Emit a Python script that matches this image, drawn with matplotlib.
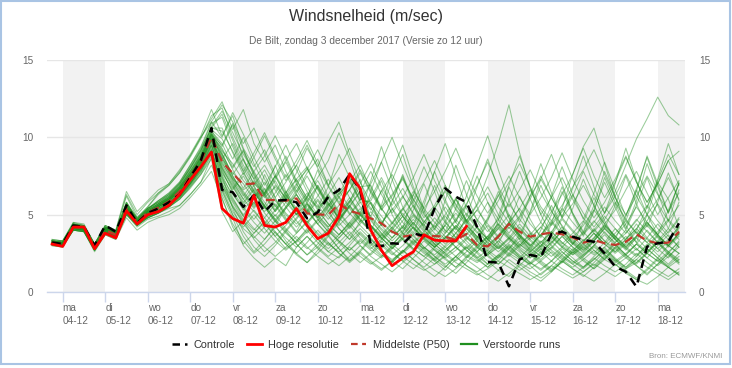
"""Windsnelheid pluim De Bilt (ECMWF ensemble), naar KNMI-grafiek."""
import matplotlib
matplotlib.use("Agg")
import matplotlib.pyplot as plt
from matplotlib.lines import Line2D
from matplotlib.patches import Rectangle

plt.rcParams["font.family"] = ["Liberation Sans", "DejaVu Sans"]

# tijdstappen: elke 6 uur vanaf zo 3 dec 18 uur, in uren t.o.v. ma 4 dec 00 uur
uren = list(range(-6, 349, 6))

dag_namen = ["ma", "di", "wo", "do", "vr", "za", "zo",
             "ma", "di", "wo", "do", "vr", "za", "zo", "ma"]
datums = ["04-12", "05-12", "06-12", "07-12", "08-12", "09-12", "10-12",
          "11-12", "12-12", "13-12", "14-12", "15-12", "16-12", "17-12", "18-12"]

controle = [
    3.2, 3.1, 4.3, 4.2, 3.0, 4.3, 3.9, 5.6, 4.45, 5.1,
    5.4, 5.8, 6.3, 7.4, 8.5, 10.6, 6.6, 6.45, 5.5, 6.27,
    5.19, 5.9, 5.95, 5.8, 4.76, 5.15, 6.16, 6.59, 7.6, 6.6,
    3.04, 2.97, 3.15, 3.1, 3.79, 3.62, 5.4, 6.7, 6.16, 5.8,
    4.2, 1.95, 1.9, 0.37, 2.1, 2.4, 2.25, 3.75, 3.9, 3.58,
    3.36, 3.25, 2.5, 1.64, 1.31, 0.34, 2.93, 3.15, 3.25, 4.44,
]

hoge_resolutie = [
    3.1, 2.95, 4.2, 4.2, 2.8, 3.8, 3.5, 5.25, 4.4, 5.0,
    5.2, 5.6, 6.3, 7.25, 8.1, 9.05, 5.4, 4.75, 4.45, 6.25,
    4.3, 4.2, 4.5, 5.4, 4.3, 3.45, 3.8, 4.9, 7.65, 6.7,
    4.0, 2.7, 1.7, 2.2, 2.6, 3.7, 3.35, 3.3, 3.3, 4.25,
]

middelste = [
    3.2, 3.1, 4.2, 4.15, 2.9, 4.0, 3.7, 5.4, 4.5, 5.15,
    5.45, 5.85, 6.5, 7.45, 8.45, 10.0, 8.42, 7.67, 6.95, 7.02,
    5.95, 5.95, 5.9, 6.05, 5.08, 5.02, 4.98, 5.71, 5.25, 5.05,
    4.76, 4.44, 3.9, 3.58, 3.68, 3.62, 3.62, 3.58, 3.36, 3.75,
    3.04, 2.95, 3.58, 4.4, 3.9, 3.58, 3.73, 3.84, 3.73, 3.53,
    3.19, 3.36, 3.15, 3.04, 3.25, 3.73, 3.32, 3.15, 3.19, 3.9,
]

# 50 verstoorde runs, elk 60 waarden
verstoorde_runs = [
    [3.3, 3.2, 4.4, 4.3, 3.0, 4.1, 3.8, 5.6, 4.7, 5.4, 5.8, 6.3, 7.0, 8.0, 9.1, 10.6, 11.5, 9.8, 8.2, 7.0,
     6.4, 7.5, 8.8, 7.2, 6.1, 5.5, 6.8, 8.9, 7.4, 5.8, 5.9, 7.2, 5.4, 4.1, 6.3, 8.1, 6.5, 4.6, 3.5, 4.9,
     6.8, 8.6, 6.7, 4.8, 3.4, 5.2, 7.3, 8.9, 7.0, 5.1, 3.9, 5.6, 7.8, 6.2, 4.3, 3.2, 5.0, 7.1, 6.0, 4.2],
    [3.1, 3.0, 4.1, 4.0, 2.7, 3.8, 3.5, 5.1, 4.3, 4.9, 5.2, 5.6, 6.1, 7.0, 8.0, 9.2, 6.1, 4.2, 3.1, 3.8,
     4.5, 3.6, 2.8, 3.3, 4.1, 3.5, 2.6, 2.2, 3.0, 3.8, 3.1, 2.4, 1.9, 2.6, 3.3, 2.8, 2.1, 1.6, 2.3, 3.0,
     2.5, 1.8, 2.4, 3.1, 2.6, 1.9, 1.4, 2.0, 2.8, 2.2, 1.6, 2.3, 2.9, 2.1, 1.5, 1.9, 2.6, 3.2, 2.4, 1.8],
    [3.2, 3.2, 4.3, 4.2, 3.0, 4.1, 3.9, 6.2, 4.8, 5.5, 6.3, 6.9, 7.7, 8.8, 10.0, 11.2, 12.3, 10.5, 11.8, 9.6,
     8.4, 9.5, 7.8, 6.5, 7.7, 8.6, 6.9, 5.8, 6.6, 7.9, 6.8, 5.5, 6.3, 7.4, 6.0, 4.8, 5.6, 6.9, 5.4, 4.5,
     5.3, 6.4, 5.0, 4.1, 4.9, 6.2, 7.3, 6.1, 4.8, 5.7, 6.9, 5.6, 4.4, 5.3, 6.6, 7.8, 6.4, 5.0, 6.1, 7.2],
    [3.3, 3.1, 4.2, 4.2, 2.8, 3.9, 3.6, 5.2, 4.4, 5.0, 5.4, 5.8, 6.4, 7.3, 8.3, 9.6, 8.0, 6.9, 5.6, 6.2,
     5.1, 4.3, 5.4, 6.3, 5.2, 4.4, 3.7, 4.6, 5.5, 4.7, 3.9, 3.2, 4.1, 3.4, 2.7, 3.5, 4.3, 3.6, 2.9, 2.2,
     2.8, 3.6, 2.9, 2.3, 3.0, 3.8, 3.1, 2.5, 1.9, 2.6, 3.4, 2.7, 2.1, 2.9, 3.6, 2.8, 2.2, 3.0, 3.7, 2.9],
    [3.2, 3.0, 4.3, 4.0, 2.9, 4.2, 3.7, 5.5, 4.4, 5.2, 5.6, 6.0, 6.7, 7.6, 8.7, 10.2, 9.1, 8.3, 7.2, 6.4,
     5.6, 6.9, 6.1, 5.3, 6.2, 7.4, 8.5, 10.3, 8.6, 6.5, 4.7, 3.8, 3.1, 3.7, 4.5, 3.6, 2.9, 3.5, 4.2, 3.3,
     2.6, 3.4, 4.3, 3.5, 2.8, 2.2, 3.0, 3.9, 3.2, 2.5, 3.2, 4.1, 3.3, 2.6, 3.4, 4.4, 3.5, 2.8, 2.2, 3.1],
    [3.1, 3.1, 4.0, 3.9, 2.8, 3.9, 3.6, 5.0, 4.5, 4.8, 5.1, 5.5, 6.0, 6.8, 7.6, 8.6, 5.2, 3.9, 4.6, 3.4,
     2.6, 3.2, 4.0, 3.1, 2.4, 2.9, 3.7, 2.8, 2.1, 2.7, 3.5, 2.7, 2.0, 1.5, 2.2, 2.9, 2.3, 1.7, 1.2, 1.9,
     2.6, 2.0, 1.4, 1.0, 1.7, 2.4, 1.8, 1.3, 2.0, 2.7, 2.1, 1.5, 2.2, 2.9, 2.3, 1.7, 1.1, 1.8, 2.5, 1.9],
    [3.4, 3.3, 4.5, 4.4, 3.1, 4.3, 4.0, 6.5, 5.2, 5.9, 6.6, 7.0, 7.9, 8.9, 10.1, 11.8, 10.1, 11.4, 9.3, 8.1,
     9.2, 7.6, 6.4, 7.3, 8.1, 6.7, 5.6, 6.4, 7.5, 6.2, 5.3, 6.5, 7.6, 6.2, 5.0, 4.3, 5.4, 6.6, 5.7, 4.6,
     3.8, 4.7, 5.9, 7.1, 8.3, 6.8, 5.5, 4.6, 5.6, 6.8, 7.9, 9.2, 7.6, 6.1, 5.0, 6.2, 7.5, 6.3, 5.2, 6.4],
    [3.2, 3.1, 4.2, 4.1, 2.9, 4.0, 3.8, 5.3, 4.6, 5.1, 5.5, 5.9, 6.5, 7.3, 8.3, 9.8, 7.7, 6.6, 7.5, 6.3,
     6.4, 8.2, 6.5, 5.0, 6.1, 7.9, 6.1, 4.6, 5.8, 7.3, 4.6, 3.8, 3.0, 3.9, 4.7, 3.9, 3.1, 2.5, 3.3, 4.1,
     3.3, 2.6, 2.0, 2.8, 3.7, 2.9, 2.3, 3.1, 4.0, 3.2, 2.5, 3.3, 4.2, 3.4, 2.7, 3.5, 2.8, 2.2, 3.0, 3.8],
    [3.3, 3.2, 4.3, 4.3, 3.1, 4.2, 3.9, 5.7, 4.7, 5.3, 5.9, 6.4, 7.1, 8.2, 9.4, 11.0, 12.1, 11.0, 9.6, 10.6,
     8.9, 7.4, 8.5, 9.6, 8.0, 6.6, 5.5, 6.3, 7.2, 6.0, 5.7, 4.3, 5.8, 7.5, 5.6, 4.1, 3.1, 4.4, 6.0, 4.5,
     3.3, 4.6, 6.3, 4.8, 3.6, 2.7, 4.0, 5.6, 4.2, 3.1, 4.5, 6.1, 4.6, 3.4, 4.9, 6.6, 5.0, 3.7, 5.3, 7.0],
    [3.0, 2.9, 4.0, 3.9, 2.6, 3.7, 3.4, 5.0, 4.2, 4.7, 4.9, 5.2, 5.6, 6.3, 7.1, 8.2, 6.6, 5.0, 3.6, 2.6,
     3.4, 4.3, 3.3, 2.5, 1.9, 2.7, 3.6, 2.8, 2.0, 2.6, 3.4, 2.6, 1.9, 2.6, 3.4, 2.7, 2.0, 1.4, 2.1, 2.9,
     2.2, 1.6, 2.3, 3.0, 2.3, 1.7, 1.1, 1.7, 2.4, 1.8, 1.3, 1.9, 2.6, 2.0, 1.4, 0.9, 1.5, 2.2, 1.6, 1.1],
    [3.2, 3.1, 4.2, 4.0, 2.9, 4.1, 3.7, 5.4, 4.5, 5.1, 5.6, 6.0, 6.6, 7.5, 8.6, 10.1, 8.8, 7.3, 6.2, 7.2,
     6.3, 5.2, 6.1, 7.0, 5.8, 4.8, 5.6, 6.6, 5.4, 4.5, 6.5, 8.4, 6.6, 4.9, 3.8, 5.6, 7.8, 9.6, 7.5, 5.4,
     4.2, 3.1, 4.6, 6.8, 5.2, 3.8, 2.9, 4.4, 6.5, 5.0, 3.6, 5.2, 7.4, 5.8, 4.1, 5.9, 8.3, 6.4, 4.6, 6.6],
    [3.1, 3.0, 4.1, 4.1, 2.8, 3.9, 3.6, 5.3, 4.4, 5.0, 5.4, 5.7, 6.3, 7.2, 8.2, 9.5, 7.3, 6.0, 5.0, 5.8,
     6.7, 5.6, 4.6, 5.5, 6.4, 5.3, 4.4, 3.7, 4.5, 5.4, 4.3, 3.5, 2.8, 3.6, 4.5, 3.7, 3.0, 3.8, 4.7, 3.9,
     3.1, 2.5, 3.3, 4.2, 3.4, 2.7, 2.1, 2.8, 3.6, 2.9, 2.3, 3.0, 3.9, 3.1, 2.4, 3.1, 4.0, 3.2, 2.5, 3.3],
    [3.3, 3.3, 4.4, 4.2, 3.1, 4.2, 3.8, 5.8, 4.6, 5.4, 5.8, 6.2, 6.9, 8.0, 9.2, 10.7, 11.7, 10.3, 8.9, 7.8,
     8.8, 10.1, 8.6, 7.1, 7.9, 9.2, 7.7, 6.3, 7.1, 8.2, 6.6, 5.4, 4.4, 5.3, 6.3, 5.1, 4.1, 3.4, 4.2, 5.1,
     4.2, 3.4, 2.8, 3.5, 4.4, 3.6, 2.9, 3.7, 4.7, 3.9, 3.1, 2.5, 3.2, 4.1, 3.3, 2.7, 3.5, 4.4, 3.6, 2.9],
    [3.2, 3.1, 4.1, 4.0, 2.9, 3.9, 3.7, 5.2, 4.6, 5.0, 5.3, 5.8, 6.3, 7.1, 8.1, 9.3, 6.8, 5.5, 4.5, 5.3,
     4.4, 3.6, 4.3, 5.1, 4.2, 3.4, 2.8, 3.5, 4.3, 3.5, 2.9, 2.3, 3.0, 3.8, 3.1, 2.5, 2.0, 2.6, 3.4, 2.7,
     2.1, 1.6, 2.2, 2.9, 2.3, 1.8, 2.5, 3.3, 2.6, 2.0, 1.5, 2.1, 2.8, 2.2, 1.6, 2.3, 3.1, 2.4, 1.8, 2.5],
    [3.2, 3.2, 4.3, 4.1, 3.0, 4.0, 3.8, 5.5, 4.5, 5.3, 5.7, 6.1, 6.8, 7.8, 8.9, 10.4, 9.4, 10.8, 8.6, 6.9,
     5.5, 4.5, 5.5, 6.6, 5.4, 4.4, 3.6, 4.5, 5.6, 4.6, 3.9, 5.6, 7.8, 9.5, 7.4, 5.3, 4.0, 5.9, 8.2, 6.3,
     4.6, 3.4, 4.9, 6.9, 8.8, 6.8, 5.0, 3.7, 5.4, 7.6, 9.4, 10.6, 8.3, 6.1, 4.6, 6.5, 8.8, 7.0, 5.1, 7.1],
    [3.1, 3.0, 4.2, 4.0, 2.7, 3.8, 3.6, 5.1, 4.4, 4.9, 5.3, 5.6, 6.2, 7.0, 7.9, 9.0, 7.0, 5.8, 4.7, 4.0,
     4.8, 3.9, 3.1, 2.5, 3.2, 4.0, 3.2, 2.5, 1.9, 2.5, 1.9, 1.4, 2.0, 2.7, 2.1, 1.5, 1.0, 1.6, 2.3, 1.7,
     1.2, 0.8, 1.4, 2.1, 1.6, 1.1, 0.7, 1.3, 2.0, 1.5, 1.0, 1.6, 2.3, 1.8, 1.2, 0.8, 1.4, 2.1, 1.6, 1.1],
    [3.3, 3.2, 4.3, 4.2, 3.0, 4.1, 3.8, 5.6, 4.6, 5.3, 5.7, 6.2, 6.9, 7.9, 9.0, 10.5, 9.9, 8.6, 10.0, 8.3,
     6.9, 8.1, 9.5, 7.9, 6.5, 5.4, 6.3, 7.4, 6.1, 5.0, 6.1, 7.4, 6.0, 4.9, 5.9, 7.1, 8.5, 6.9, 5.6, 4.6,
     5.6, 6.8, 5.5, 4.5, 5.4, 6.6, 5.3, 4.3, 5.2, 6.3, 5.1, 4.2, 5.1, 6.2, 7.6, 6.2, 5.0, 6.0, 7.4, 6.0],
    [3.2, 3.1, 4.2, 4.1, 2.9, 4.0, 3.7, 5.4, 4.5, 5.1, 5.5, 5.9, 6.5, 7.4, 8.4, 9.9, 8.2, 7.0, 5.8, 6.7,
     5.6, 4.7, 5.5, 4.6, 3.8, 4.6, 5.5, 4.5, 3.7, 4.4, 5.2, 4.3, 3.5, 4.2, 3.4, 2.8, 3.5, 4.3, 3.5, 2.8,
     3.5, 4.3, 3.5, 2.8, 2.2, 2.9, 3.7, 3.0, 2.4, 3.1, 3.9, 3.1, 2.5, 3.2, 4.0, 3.2, 2.6, 3.3, 4.1, 3.4],
    [3.3, 3.2, 4.4, 4.2, 3.0, 4.2, 3.8, 5.7, 4.8, 5.4, 5.9, 6.3, 7.0, 8.1, 9.2, 10.6, 10.6, 9.0, 7.6, 8.7,
     7.3, 6.1, 7.1, 8.2, 6.8, 5.6, 4.7, 5.6, 6.6, 5.5, 4.9, 6.6, 5.0, 3.8, 5.3, 7.0, 5.3, 3.9, 5.4, 7.2,
     5.5, 4.1, 3.1, 4.5, 6.2, 4.7, 3.5, 5.0, 6.8, 5.1, 3.8, 5.3, 7.1, 5.5, 4.0, 5.6, 7.4, 5.6, 4.1, 5.8],
    [3.1, 3.0, 4.1, 4.0, 2.8, 3.9, 3.6, 5.2, 4.4, 4.9, 5.2, 5.6, 6.2, 7.0, 8.0, 9.4, 7.5, 5.4, 3.9, 2.9,
     2.3, 3.0, 3.9, 3.1, 2.4, 3.1, 4.0, 3.2, 2.5, 1.9, 2.5, 3.3, 2.6, 2.0, 1.5, 2.1, 2.8, 2.2, 1.6, 2.3,
     3.0, 2.4, 1.8, 2.5, 3.3, 2.6, 2.0, 1.5, 2.1, 2.8, 2.2, 1.7, 2.4, 3.1, 2.4, 1.8, 2.5, 3.3, 2.6, 2.0],
    [3.2, 3.2, 4.2, 4.2, 2.9, 4.1, 3.8, 5.5, 4.6, 5.2, 5.6, 6.0, 6.7, 7.6, 8.6, 10.1, 9.3, 7.9, 6.7, 7.8,
     6.6, 5.5, 6.5, 5.4, 4.5, 5.3, 6.3, 5.2, 4.3, 5.1, 4.3, 3.6, 4.4, 5.4, 4.4, 3.6, 4.4, 5.5, 4.5, 3.7,
     4.6, 5.8, 4.7, 3.8, 4.8, 6.0, 7.5, 6.1, 4.9, 6.2, 7.8, 6.3, 5.1, 6.5, 8.2, 9.9, 11.2, 12.6, 11.4, 10.8],
    [3.1, 3.1, 4.1, 4.0, 2.9, 4.0, 3.6, 5.3, 4.4, 5.0, 5.4, 5.8, 6.4, 7.2, 8.2, 9.7, 8.5, 7.4, 6.5, 5.6,
     7.6, 6.1, 4.8, 3.9, 5.2, 6.9, 5.3, 4.1, 3.4, 4.6, 4.8, 4.0, 3.3, 4.0, 4.9, 4.0, 3.3, 2.7, 3.4, 4.2,
     3.5, 2.9, 3.6, 4.5, 3.7, 3.0, 2.5, 3.2, 4.0, 3.3, 2.7, 3.4, 4.3, 3.5, 2.9, 3.6, 4.5, 3.7, 3.0, 3.8],
    [3.2, 3.1, 4.3, 4.2, 3.0, 4.1, 3.7, 5.5, 4.6, 5.2, 5.6, 6.1, 6.7, 7.7, 8.7, 10.2, 8.9, 7.6, 8.6, 7.3,
     6.2, 7.2, 6.0, 5.0, 5.8, 6.8, 5.7, 4.7, 5.5, 6.5, 7.8, 6.3, 5.1, 6.1, 7.4, 8.9, 7.2, 5.8, 4.7, 5.7,
     6.9, 8.4, 6.8, 5.5, 6.6, 7.9, 6.4, 5.2, 6.3, 7.6, 9.3, 7.5, 6.1, 7.3, 8.8, 7.1, 5.8, 7.0, 8.5, 9.1],
    [3.1, 3.0, 4.0, 3.9, 2.7, 3.8, 3.5, 5.1, 4.3, 4.8, 5.1, 5.5, 6.0, 6.8, 7.7, 8.9, 7.2, 5.9, 4.9, 4.1,
     3.4, 4.2, 3.5, 2.9, 3.6, 2.9, 2.3, 2.9, 3.7, 3.0, 2.4, 3.1, 2.5, 2.0, 2.6, 3.3, 2.7, 2.1, 1.6, 2.2,
     2.9, 2.3, 1.8, 2.4, 3.1, 2.5, 1.9, 1.4, 1.9, 2.6, 2.0, 1.5, 2.1, 2.8, 2.2, 1.7, 1.2, 1.8, 2.5, 1.9],
    [3.2, 3.1, 4.2, 4.1, 2.9, 4.0, 3.7, 5.4, 4.5, 5.1, 5.5, 5.9, 6.6, 7.5, 8.5, 10.0, 8.3, 7.3, 6.6, 7.1,
     6.1, 6.8, 5.8, 5.0, 5.7, 4.9, 4.2, 5.0, 5.9, 5.0, 4.3, 3.7, 4.5, 3.8, 3.2, 3.9, 4.8, 4.0, 3.4, 4.1,
     3.4, 2.8, 3.5, 4.4, 3.6, 3.0, 3.7, 4.6, 3.8, 3.1, 2.6, 3.3, 4.1, 3.4, 2.8, 3.5, 4.3, 3.5, 2.9, 3.6],
    [3.3, 3.3, 4.4, 4.3, 3.1, 4.3, 3.9, 5.8, 4.8, 5.5, 6.4, 7.0, 7.8, 8.8, 10.0, 11.0, 10.0, 11.6, 10.2, 8.7,
     10.1, 8.6, 7.2, 8.2, 9.5, 8.0, 6.8, 5.7, 6.6, 7.7, 6.4, 5.3, 6.2, 7.3, 6.0, 5.0, 4.2, 5.0, 6.0, 5.0,
     4.1, 3.4, 4.1, 5.0, 4.1, 3.4, 4.2, 5.2, 4.3, 3.5, 4.3, 5.3, 4.4, 3.6, 4.4, 5.5, 4.5, 3.7, 4.6, 5.6],
    [3.1, 3.0, 4.1, 3.9, 2.8, 3.8, 3.5, 5.0, 4.3, 4.8, 5.1, 5.5, 6.0, 6.7, 7.6, 8.8, 6.3, 4.8, 3.0, 2.2,
     1.6, 2.2, 1.7, 2.9, 3.6, 2.8, 2.2, 1.7, 2.3, 3.0, 2.3, 1.8, 1.3, 1.9, 2.5, 1.9, 1.4, 1.0, 1.5, 2.1,
     1.6, 1.1, 0.7, 1.2, 1.8, 1.3, 0.9, 1.4, 2.0, 1.5, 1.1, 0.7, 1.2, 1.8, 1.3, 0.8, 0.5, 1.0, 1.6, 1.2],
    [3.2, 3.2, 4.3, 4.2, 3.0, 4.1, 3.8, 5.6, 4.7, 5.3, 5.7, 6.2, 6.8, 7.8, 8.9, 10.4, 9.6, 8.1, 9.2, 7.6,
     6.3, 7.3, 8.4, 7.0, 5.9, 6.9, 5.8, 4.9, 5.8, 6.8, 6.9, 5.3, 7.2, 8.9, 6.8, 5.1, 6.9, 5.2, 4.0, 5.6,
     7.5, 5.8, 4.3, 5.9, 7.8, 6.0, 4.5, 6.2, 8.1, 6.3, 4.7, 6.4, 8.4, 6.6, 4.9, 6.7, 8.7, 6.8, 5.1, 7.0],
    [3.1, 3.1, 4.2, 4.1, 2.8, 3.9, 3.6, 5.3, 4.4, 5.0, 5.4, 5.8, 6.4, 7.3, 8.3, 9.8, 7.9, 6.4, 5.3, 6.1,
     7.1, 5.9, 5.0, 4.2, 5.0, 5.9, 4.9, 4.1, 3.4, 4.1, 3.4, 2.8, 3.5, 4.3, 3.6, 2.9, 2.4, 3.0, 3.8, 3.1,
     2.6, 3.3, 4.1, 3.4, 2.7, 2.2, 2.8, 3.6, 2.9, 2.4, 3.0, 3.8, 3.1, 2.5, 3.1, 3.9, 3.2, 2.6, 3.3, 4.1],
    [3.3, 3.2, 4.3, 4.1, 3.0, 4.1, 3.8, 5.5, 4.6, 5.2, 5.7, 6.1, 6.8, 7.7, 8.8, 10.3, 9.0, 7.5, 6.3, 5.4,
     6.3, 7.5, 6.2, 5.2, 6.1, 7.2, 6.0, 5.0, 5.9, 7.0, 8.3, 6.8, 5.6, 6.7, 5.5, 4.5, 5.4, 6.5, 5.3, 4.4,
     5.3, 4.4, 3.6, 4.4, 5.4, 4.4, 3.6, 4.4, 5.4, 4.5, 3.7, 4.5, 5.5, 4.6, 3.8, 4.6, 5.6, 4.6, 3.8, 4.7],
    [3.2, 3.0, 4.1, 4.0, 2.8, 3.9, 3.6, 5.2, 4.4, 4.9, 5.2, 5.6, 6.2, 7.0, 7.9, 9.1, 6.7, 5.2, 4.2, 5.0,
     4.1, 3.3, 2.7, 3.3, 4.0, 3.2, 2.6, 3.2, 3.9, 3.1, 3.8, 3.0, 2.4, 3.0, 3.7, 2.9, 2.3, 1.8, 2.3, 2.9,
     2.3, 1.8, 2.3, 3.0, 2.4, 1.9, 1.5, 2.0, 2.6, 2.0, 1.6, 2.1, 2.7, 2.1, 1.6, 2.1, 2.8, 2.2, 1.7, 2.3],
    [3.2, 3.1, 4.2, 4.1, 2.9, 4.1, 3.7, 5.4, 4.5, 5.2, 5.6, 6.0, 6.6, 7.6, 8.6, 10.1, 8.7, 7.2, 6.0, 5.2,
     4.4, 5.3, 6.4, 7.7, 9.3, 8.1, 9.7, 11.0, 8.9, 7.1, 5.7, 4.6, 3.8, 4.6, 5.6, 4.6, 3.8, 3.1, 3.8, 4.7,
     3.9, 3.2, 2.6, 3.2, 4.0, 3.3, 2.7, 3.4, 4.2, 3.4, 2.8, 3.5, 4.4, 3.6, 2.9, 3.6, 4.5, 3.7, 3.0, 3.8],
    [3.2, 3.2, 4.2, 4.1, 3.0, 4.0, 3.8, 5.4, 4.6, 5.1, 5.5, 6.0, 6.5, 7.4, 8.5, 9.9, 8.1, 6.8, 5.7, 6.6,
     5.5, 4.6, 5.4, 6.3, 5.3, 4.4, 5.2, 6.2, 5.1, 4.3, 3.6, 4.4, 5.4, 4.5, 3.7, 4.5, 5.5, 4.5, 3.8, 4.6,
     5.7, 7.5, 9.6, 12.1, 9.0, 6.7, 5.0, 6.1, 7.4, 6.0, 4.8, 3.9, 4.7, 5.8, 4.7, 3.8, 4.6, 5.7, 4.6, 3.7],
    [3.1, 3.1, 4.1, 4.0, 2.8, 3.9, 3.6, 5.2, 4.5, 5.0, 5.3, 5.7, 6.3, 7.1, 8.1, 9.5, 7.6, 6.1, 4.9, 5.8,
     4.8, 5.7, 4.7, 3.8, 4.5, 3.7, 3.0, 3.7, 4.5, 3.7, 3.0, 3.7, 3.1, 2.5, 3.1, 3.8, 3.1, 2.5, 2.0, 2.6,
     3.3, 2.7, 2.2, 2.8, 3.5, 2.8, 2.3, 2.9, 3.6, 2.9, 2.4, 3.0, 3.7, 3.0, 2.4, 1.9, 2.5, 3.2, 2.6, 2.1],
    [3.3, 3.2, 4.4, 4.3, 3.0, 4.2, 3.9, 5.7, 4.7, 5.4, 5.8, 6.3, 7.0, 8.0, 9.1, 10.6, 10.4, 9.1, 7.8, 9.0,
     10.3, 8.8, 7.4, 8.5, 9.8, 8.3, 6.9, 8.0, 9.3, 7.8, 6.5, 5.4, 4.5, 5.4, 6.5, 5.4, 4.5, 3.8, 4.6, 5.6,
     4.7, 3.9, 4.7, 5.7, 4.7, 3.9, 3.2, 3.9, 4.8, 4.0, 3.3, 4.0, 4.9, 4.1, 3.4, 4.1, 5.0, 4.1, 3.4, 4.2],
    [3.0, 2.9, 4.0, 3.9, 2.7, 3.7, 3.4, 4.8, 4.0, 4.5, 4.8, 5.0, 5.4, 6.1, 6.9, 7.8, 6.0, 4.4, 3.3, 2.5,
     3.1, 3.9, 3.1, 2.4, 1.9, 2.5, 3.2, 2.5, 2.0, 2.6, 2.0, 1.5, 2.0, 2.7, 2.1, 1.6, 2.2, 2.9, 2.3, 1.7,
     1.3, 1.8, 2.4, 1.9, 1.4, 1.9, 2.6, 2.0, 1.5, 1.1, 1.6, 2.2, 1.7, 1.3, 1.8, 2.5, 1.9, 1.4, 1.0, 1.5],
    [3.2, 3.1, 4.2, 4.1, 2.9, 4.0, 3.7, 5.4, 4.5, 5.1, 5.5, 5.9, 6.5, 7.4, 8.4, 9.9, 8.6, 7.7, 7.0, 6.0,
     5.2, 6.0, 5.1, 4.4, 5.1, 6.0, 5.1, 4.3, 5.0, 5.8, 4.9, 4.1, 3.5, 4.2, 5.0, 4.2, 3.5, 2.9, 3.5, 4.3,
     3.6, 3.0, 3.7, 4.5, 3.7, 3.1, 2.6, 3.2, 3.9, 3.2, 2.7, 3.3, 4.1, 3.4, 2.8, 2.3, 2.9, 3.6, 3.0, 2.5],
    [3.3, 3.2, 4.3, 4.2, 3.0, 4.1, 3.8, 5.6, 4.6, 5.3, 5.7, 6.1, 6.8, 7.8, 8.8, 10.3, 9.2, 8.0, 9.1, 7.5,
     6.2, 5.2, 6.2, 7.3, 6.0, 5.0, 4.2, 5.1, 6.1, 5.1, 7.2, 9.4, 7.3, 5.5, 4.3, 5.9, 7.8, 6.0, 4.5, 6.2,
     8.2, 10.1, 7.9, 5.9, 4.5, 6.2, 8.3, 6.4, 4.8, 6.7, 8.8, 6.8, 5.1, 7.0, 9.3, 7.2, 5.4, 7.3, 9.6, 7.6],
    [3.1, 3.0, 4.1, 4.0, 2.8, 3.9, 3.6, 5.2, 4.4, 4.9, 5.2, 5.6, 6.1, 6.9, 7.8, 9.1, 7.4, 6.3, 5.4, 4.5,
     3.8, 4.6, 3.8, 3.2, 3.9, 4.7, 3.9, 3.3, 2.7, 3.4, 2.8, 3.4, 4.2, 3.4, 2.8, 2.3, 2.9, 3.6, 2.9, 2.4,
     2.0, 2.5, 3.1, 2.5, 2.1, 2.6, 3.3, 2.7, 2.2, 1.8, 2.3, 2.9, 2.4, 1.9, 2.4, 3.1, 2.5, 2.0, 2.6, 3.2],
    [3.4, 3.3, 4.5, 4.3, 3.1, 4.3, 4.0, 6.3, 5.0, 5.8, 6.4, 6.9, 7.7, 8.7, 9.9, 11.4, 11.9, 10.0, 8.5, 7.3,
     8.2, 7.0, 6.0, 6.9, 8.0, 6.7, 5.7, 4.8, 5.6, 6.5, 5.4, 4.5, 5.3, 6.2, 5.1, 4.3, 3.6, 4.3, 5.1, 4.3,
     3.6, 3.0, 3.6, 4.4, 3.6, 3.0, 3.7, 4.5, 3.7, 3.1, 3.8, 4.6, 3.8, 3.2, 3.8, 4.7, 3.9, 3.2, 3.9, 4.8],
    [3.1, 3.0, 4.0, 4.0, 2.7, 3.8, 3.5, 5.1, 4.3, 4.8, 5.1, 5.5, 6.1, 6.9, 7.8, 9.0, 6.5, 5.0, 4.1, 3.5,
     4.2, 5.0, 4.1, 3.4, 2.8, 3.4, 4.1, 3.3, 2.7, 3.3, 2.7, 2.2, 2.8, 3.5, 2.8, 2.3, 1.8, 2.3, 2.9, 2.3,
     1.9, 2.4, 3.0, 2.4, 1.9, 1.5, 2.0, 2.6, 2.1, 1.6, 2.1, 2.7, 2.1, 1.7, 2.2, 2.8, 2.2, 1.7, 2.3, 2.9],
    [3.2, 3.2, 4.3, 4.1, 3.0, 4.1, 3.8, 5.5, 4.6, 5.2, 5.6, 6.0, 6.7, 7.6, 8.7, 10.2, 9.5, 10.9, 9.2, 7.7,
     6.4, 5.3, 6.3, 5.2, 4.4, 5.2, 6.2, 5.1, 4.2, 5.0, 4.2, 3.5, 4.2, 5.1, 4.2, 3.5, 2.9, 3.5, 4.3, 3.6,
     3.0, 3.6, 4.4, 3.6, 3.0, 3.7, 4.5, 3.7, 3.1, 3.8, 4.6, 3.8, 3.1, 3.8, 4.6, 3.8, 3.2, 3.9, 4.7, 3.9],
    [3.2, 3.1, 4.2, 4.1, 2.9, 4.0, 3.7, 5.4, 4.5, 5.1, 5.5, 5.9, 6.5, 7.4, 8.4, 9.9, 8.4, 7.1, 6.0, 6.9,
     7.9, 6.6, 5.5, 6.4, 7.5, 6.3, 5.2, 6.1, 7.1, 5.9, 7.0, 8.4, 10.0, 8.2, 6.6, 5.4, 6.5, 7.8, 9.3, 7.6,
     6.2, 5.1, 6.2, 7.5, 6.1, 5.0, 6.1, 7.4, 9.0, 7.3, 5.9, 4.8, 5.8, 7.1, 8.7, 7.1, 5.8, 7.0, 8.5, 6.9],
    [3.0, 3.0, 4.0, 3.9, 2.7, 3.8, 3.5, 5.0, 4.3, 4.8, 5.1, 5.4, 5.6, 6.3, 7.1, 8.7, 6.9, 5.5, 4.4, 3.6,
     2.9, 2.3, 2.9, 3.6, 2.9, 2.3, 1.8, 2.3, 2.9, 2.3, 1.8, 2.3, 2.9, 2.3, 1.8, 1.4, 1.8, 2.4, 1.9, 1.5,
     1.1, 1.5, 2.0, 1.6, 1.2, 0.8, 1.2, 1.7, 1.3, 0.9, 1.3, 1.8, 1.4, 1.0, 1.5, 2.1, 1.6, 1.2, 0.8, 1.3],
    [3.2, 3.1, 4.2, 4.1, 2.9, 4.0, 3.7, 5.3, 4.5, 5.1, 5.5, 5.9, 6.5, 7.4, 8.4, 9.8, 8.0, 6.7, 7.7, 6.5,
     5.5, 4.6, 3.9, 4.7, 5.6, 4.7, 3.9, 4.7, 5.6, 4.7, 4.0, 3.4, 4.0, 4.9, 4.1, 3.4, 2.9, 3.5, 4.3, 3.6,
     3.0, 3.6, 4.4, 3.7, 3.1, 2.6, 3.2, 3.9, 3.2, 2.7, 3.3, 4.0, 3.3, 2.8, 3.4, 4.1, 3.4, 2.8, 3.4, 4.2],
    [3.2, 3.1, 4.3, 4.1, 2.9, 4.1, 3.7, 5.5, 4.5, 5.2, 5.6, 6.0, 6.6, 7.5, 8.5, 10.0, 8.9, 7.5, 6.4, 5.5,
     6.4, 7.5, 6.3, 5.3, 4.5, 5.3, 4.4, 3.7, 4.4, 5.2, 4.3, 3.5, 2.8, 3.4, 4.2, 3.4, 2.7, 2.2, 2.7, 3.4,
     4.2, 3.4, 2.8, 3.4, 4.2, 3.4, 2.8, 2.3, 2.9, 3.6, 2.9, 2.4, 2.9, 3.6, 2.9, 2.4, 3.0, 3.7, 3.0, 2.5],
    [3.3, 3.2, 4.4, 4.2, 3.1, 4.2, 3.9, 5.8, 4.7, 5.4, 5.9, 6.4, 7.1, 8.2, 9.3, 10.9, 11.3, 9.4, 7.8, 6.5,
     5.4, 6.4, 7.6, 6.3, 5.2, 6.2, 7.3, 6.1, 5.0, 6.0, 5.8, 4.3, 5.9, 7.6, 5.8, 4.4, 3.3, 4.6, 6.1, 4.6,
     3.5, 4.8, 6.5, 5.0, 3.7, 5.1, 6.9, 5.3, 3.9, 5.4, 7.3, 5.6, 4.1, 5.6, 7.5, 5.7, 4.2, 5.8, 7.7, 5.9],
    [3.1, 3.0, 4.1, 4.0, 2.8, 3.9, 3.6, 5.1, 4.4, 4.9, 5.2, 5.6, 6.2, 7.0, 8.0, 9.2, 7.0, 5.6, 4.6, 3.8,
     4.6, 3.8, 3.1, 3.8, 4.6, 3.8, 3.1, 2.6, 3.2, 3.9, 3.2, 2.6, 2.1, 2.6, 3.2, 2.6, 2.1, 2.7, 3.3, 2.7,
     2.2, 2.7, 3.3, 2.7, 2.2, 1.8, 2.3, 2.9, 2.3, 1.9, 2.4, 3.0, 2.4, 2.0, 2.5, 3.1, 2.5, 2.0, 1.6, 2.1],
    [3.2, 3.2, 4.2, 4.2, 3.0, 4.1, 3.8, 5.5, 4.6, 5.2, 5.6, 6.1, 6.7, 7.6, 8.7, 10.2, 8.6, 9.6, 8.0, 6.8,
     5.8, 4.9, 5.8, 6.8, 5.7, 4.8, 5.7, 4.8, 4.1, 4.9, 5.8, 4.9, 4.1, 4.9, 4.1, 3.5, 4.1, 4.9, 4.1, 3.5,
     2.9, 3.5, 4.2, 3.5, 2.9, 3.5, 4.2, 3.5, 2.9, 2.4, 2.9, 3.5, 4.3, 3.6, 3.0, 3.6, 4.4, 3.6, 3.0, 3.7],
    [3.1, 3.1, 4.1, 4.0, 2.8, 3.9, 3.6, 5.2, 4.4, 5.0, 5.3, 5.7, 6.3, 7.1, 8.1, 9.5, 7.8, 6.5, 5.5, 4.7,
     5.6, 4.7, 4.0, 4.8, 5.7, 4.8, 4.1, 3.5, 4.2, 5.0, 4.2, 3.5, 2.9, 3.5, 4.2, 3.5, 2.9, 2.4, 2.9, 3.5,
     2.9, 2.4, 2.9, 3.5, 2.9, 2.4, 3.0, 3.6, 3.0, 2.5, 3.1, 3.8, 3.1, 2.6, 3.2, 4.0, 5.5, 7.2, 8.9, 7.6],
]

# kleuren
groen = "#1f8f1f"
rood = "#ff0000"
p50_rood = "#c0392b"
tekst_donker = "#333333"
tekst_grijs = "#666666"
as_blauw = "#ccd6eb"

t = [u / 24.0 for u in uren]

fig = plt.figure(figsize=(7.32, 3.68), dpi=100)
ax = fig.add_axes([47 / 732, 1 - 292 / 368, 638 / 732, 232 / 368])

# dagbanden (afwisselend grijs)
for d in range(0, 15, 2):
    ax.axvspan(d, d + 1, color="#f2f2f2", lw=0, zorder=0)

for run in verstoorde_runs:
    ax.plot(t[:len(run)], run, color=groen, lw=0.75, alpha=0.45, zorder=2)

ax.plot(t[:len(middelste)], middelste, color=p50_rood, lw=1.6,
        dashes=(4, 2.5), zorder=3)
ax.plot(t[:len(controle)], controle, color="black", lw=1.8,
        dashes=(3.5, 2.5), zorder=4)
ax.plot(t[:len(hoge_resolutie)], hoge_resolutie, color=rood, lw=2.0, zorder=5)

ax.set_xlim(-15.7 / 42.5, 622.3 / 42.5)
ax.set_ylim(0, 15)
ax.set_yticks([0, 5, 10, 15])
ax.yaxis.grid(True, color="#e6e6e6", lw=1)
ax.set_axisbelow(True)

ax.set_xticks(range(len(datums)))
ax.set_xticklabels([f"{n}\n{d}" for n, d in zip(dag_namen, datums)],
                   ha="left", linespacing=1.45)

for s in ["top", "left", "right"]:
    ax.spines[s].set_visible(False)
ax.spines["bottom"].set_color(as_blauw)
ax.spines["bottom"].set_linewidth(1)

ax.tick_params(axis="x", length=7.2, width=1, color=as_blauw, pad=0.5,
               labelsize=7.2, labelcolor=tekst_grijs)
ax.tick_params(axis="y", length=0, pad=10, labelsize=7.2,
               labelcolor=tekst_grijs, labelright=True)

# titels
fig.text(0.5, 1 - 16 / 368, "Windsnelheid (m/sec)", ha="center", va="center",
         fontsize=11.5, color=tekst_donker)
fig.text(0.5, 1 - 41 / 368, "De Bilt, zondag 3 december 2017 (Versie zo 12 uur)",
         ha="center", va="center", fontsize=7.3, color=tekst_grijs)

# legenda
handles = [
    Line2D([], [], color="black", lw=1.8, dashes=(3, 2)),
    Line2D([], [], color=rood, lw=2.0),
    Line2D([], [], color=p50_rood, lw=1.6, dashes=(3, 2)),
    Line2D([], [], color=groen, lw=1.6),
]
labels = ["Controle", "Hoge resolutie", "Middelste (P50)", "Verstoorde runs"]
fig.legend(handles, labels, loc="center", bbox_to_anchor=(0.5, 1 - 345 / 368),
           ncol=4, frameon=False, fontsize=7.8, handlelength=1.4,
           handletextpad=0.6, columnspacing=1.1, labelcolor=tekst_donker)

fig.text(722 / 732, 1 - 357 / 368, "Bron: ECMWF/KNMI", ha="right", va="center",
         fontsize=5.8, color="#999999")

# rand rond de grafiek
fig.patches.append(Rectangle((1 / 732, 4 / 368), 729 / 732, 363 / 368,
                             transform=fig.transFigure, fill=False,
                             edgecolor="#a9c4e4", lw=1.5))

fig.savefig("out.png", dpi=100)
